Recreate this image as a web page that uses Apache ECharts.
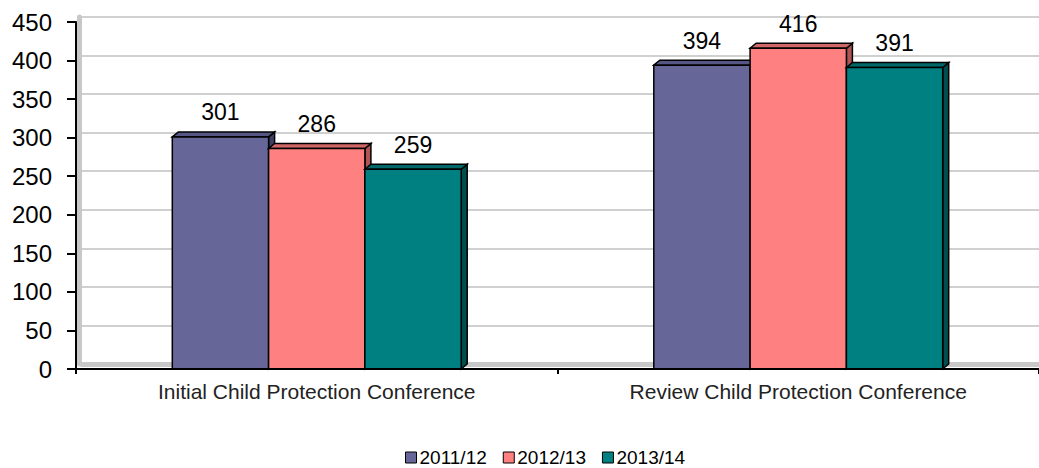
<!DOCTYPE html>
<html>
<head>
<meta charset="utf-8">
<script src="https://cdn.jsdelivr.net/npm/echarts@6/dist/echarts.min.js"></script>
<style>
  html, body { margin: 0; padding: 0; background: #fff; }
  #chart { width: 1039px; height: 468px; }
</style>
</head>
<body>
<div id="chart"></div>
<script>
// data
var categories = ['Initial Child Protection Conference', 'Review Child Protection Conference'];
var seriesNames = ['2011/12', '2012/13', '2013/14'];
var values2011 = [301, 394];
var values2012 = [286, 416];
var values2013 = [259, 391];
var yTicks = { min: 0, max: 450, interval: 50 };

var allValues = [values2011, values2012, values2013];
// front / top / side colours of the 3D boxes
var faceColors = [
  ['#666699', '#565685', '#3f3f66'],
  ['#ff8080', '#d06666', '#b05555'],
  ['#008080', '#006868', '#004e4e']
];
var FONT = 'Liberation Sans, Arial, sans-serif';
var DX = 6, DY = 5; // depth of the fake 3D

function renderBox(params, api) {
  var idx = params.seriesIndex;
  var cat = api.value(0), val = api.value(1);
  var base = api.coord([cat, 0]);
  var top = api.coord([cat, val]);
  var band = api.size([1, 0])[0];
  var w = band * 0.6 / 3;
  var x0 = base[0] - 1.5 * w + idx * w;
  var c = faceColors[idx];
  var line = { stroke: '#000', lineWidth: 1.5 };
  return {
    type: 'group',
    children: [
      { type: 'polygon', shape: { points: [[x0 + w, top[1]], [x0 + w + DX, top[1] - DY], [x0 + w + DX, base[1] - DY], [x0 + w, base[1]]] },
        style: Object.assign({ fill: c[2] }, line) },
      { type: 'polygon', shape: { points: [[x0, top[1]], [x0 + DX, top[1] - DY], [x0 + w + DX, top[1] - DY], [x0 + w, top[1]]] },
        style: Object.assign({ fill: c[1] }, line) },
      { type: 'rect', shape: { x: x0, y: top[1], width: w, height: base[1] - top[1] },
        style: Object.assign({ fill: c[0] }, line) },
      { type: 'text', style: { text: String(val), x: x0 + w / 2, y: top[1] - 13, align: 'center', verticalAlign: 'bottom',
        fontSize: 23, fontFamily: FONT, fill: '#000' } }
    ]
  };
}

var chart = echarts.init(document.getElementById('chart'), null, { renderer: 'svg' });
chart.setOption({
  animation: false,
  backgroundColor: '#fff',
  grid: [
    { left: 76, top: 22, width: 964, height: 347 },
    // back wall, shifted for depth
    { left: 76 + DX, top: 22 - DY, width: 964 - DX, height: 347 }
  ],
  xAxis: [
    {
      gridIndex: 0, type: 'category', data: categories,
      axisLine: { lineStyle: { color: '#000', width: 2 } },
      axisTick: { show: true, length: 5, lineStyle: { color: '#000', width: 2 } },
      axisLabel: { color: '#222', fontSize: 21, fontFamily: FONT, margin: 12 },
      z: 5
    },
    {
      gridIndex: 1, type: 'category', data: categories,
      offset: 2.5,
      axisLine: { lineStyle: { color: '#c8c8c8', width: 5 } },
      axisTick: { show: false }, axisLabel: { show: false }
    }
  ],
  yAxis: [
    {
      gridIndex: 0, type: 'value', min: yTicks.min, max: yTicks.max, interval: yTicks.interval,
      axisLine: { show: true, lineStyle: { color: '#000', width: 2 } },
      axisTick: { show: true, length: 9, lineStyle: { color: '#000', width: 2 } },
      axisLabel: { color: '#000', fontSize: 24, fontFamily: FONT, margin: 24 },
      splitLine: { show: false },
      z: 5
    },
    {
      gridIndex: 1, type: 'value', min: yTicks.min, max: yTicks.max, interval: yTicks.interval,
      offset: 3,
      axisLine: { show: true, lineStyle: { color: '#c8c8c8', width: 5 } },
      axisTick: { show: false }, axisLabel: { show: false },
      splitLine: { show: true, lineStyle: { color: '#d0d0d0', width: 2 } }
    }
  ],
  legend: {
    data: seriesNames,
    left: 405, top: 448, padding: 0,
    icon: 'rect', itemWidth: 11, itemHeight: 11, itemGap: 16,
    itemStyle: { borderColor: '#000', borderWidth: 1 },
    textStyle: { color: '#000', fontSize: 19, lineHeight: 19, fontFamily: FONT, padding: [0, 0, 0, -2] }
  },
  series: seriesNames.map(function (name, i) {
    return {
      name: name,
      type: 'custom',
      xAxisIndex: 0, yAxisIndex: 0,
      itemStyle: { color: faceColors[i][0] },
      renderItem: renderBox,
      data: categories.map(function (c, k) { return [k, allValues[i][k]]; })
    };
  })
});
</script>
</body>
</html>
